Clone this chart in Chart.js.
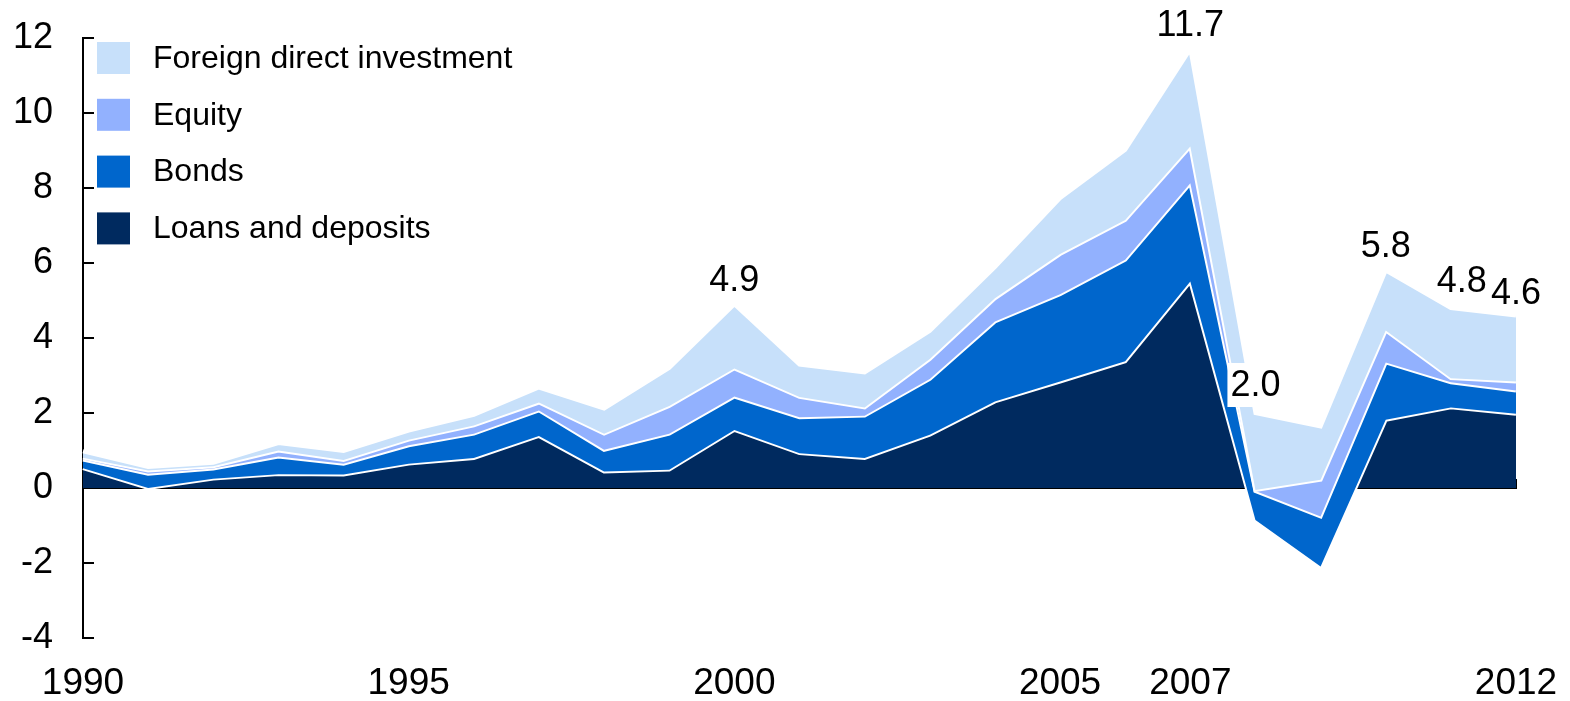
<!DOCTYPE html>
<html>
<head>
<meta charset="utf-8">
<title>Capital flows by type</title>
<script src="https://cdn.jsdelivr.net/npm/chart.js@4/dist/chart.umd.min.js"></script>
<style>
  html, body { margin: 0; padding: 0; background: #fff; }
  #wrap { position: relative; width: 1570px; height: 701px; }
</style>
</head>
<body>
<div id="wrap"><canvas id="flows"></canvas></div>
<script>
  const years = ["1990", "1991", "1992", "1993", "1994", "1995", "1996", "1997", "1998", "1999", "2000",
    "2001", "2002", "2003", "2004", "2005", "2006", "2007", "2008", "2009", "2010", "2011", "2012"];
  const shownYears = ["1990", "1995", "2000", "2005", "2007", "2012"];
  const labelYears = ["2000", "2007", "2008", "2010", "2011", "2012"];

  const loans = [0.53, 0.0, 0.25, 0.37, 0.36, 0.65, 0.80, 1.39, 0.44, 0.49, 1.55,
    0.93, 0.80, 1.42, 2.31, 2.84, 3.38, 5.51, -0.85, -2.09, 1.82, 2.15, 1.98];
  const bonds = [0.23, 0.38, 0.27, 0.47, 0.29, 0.49, 0.65, 0.68, 0.58, 0.96, 0.89,
    0.96, 1.13, 1.49, 2.13, 2.33, 2.71, 2.62, 0.77, 1.33, 1.53, 0.67, 0.62];
  const equity = [0.05, 0.09, 0.06, 0.16, 0.10, 0.15, 0.22, 0.21, 0.43, 0.74, 0.75,
    0.54, 0.22, 0.53, 0.62, 1.07, 1.06, 0.98, 0.03, 0.98, 0.85, 0.11, 0.24];
  const fdi = [0.17, 0.09, 0.09, 0.20, 0.24, 0.24, 0.28, 0.40, 0.67, 1.01, 1.71,
    0.86, 0.93, 0.75, 0.83, 1.49, 1.87, 2.59, 2.05, 1.42, 1.60, 1.87, 1.76];

  const yTicks = [-4, -2, 0, 2, 4, 6, 8, 10, 12];

  const FONT = '"Liberation Sans", Arial, Helvetica, sans-serif';

  // running sums, stacked in the order loans -> bonds -> equity -> FDI
  function addUp(a, b) { return a.map((v, i) => +(v + b[i]).toFixed(2)); }
  const loansTop = loans.slice();
  const bondsTop = addUp(loansTop, bonds);
  const equityTop = addUp(bondsTop, equity);
  const totals = addUp(equityTop, fdi);

  // listed top-down so Chart.js paints loans first and FDI last
  const series = [
    { label: "Foreign direct investment", data: totals, color: "#c7e0fa", fill: "+1" },
    { label: "Equity", data: equityTop, color: "#92b1fe", fill: "+1" },
    { label: "Bonds", data: bondsTop, color: "#0066cc", fill: "+1" },
    { label: "Loans and deposits", data: loansTop, color: "#002a5f", fill: "origin" },
  ];

  // label placement: [x shift, gap above the point, white box behind]
  const labelPlace = {
    "2000": [0, 24, false],
    "2007": [0, 24, false],
    "2008": [0, 28, true],
    "2010": [0, 24, false],
    "2011": [11, 27, false],
    "2012": [0, 22, false],
  };

  const overlay = {
    id: "overlay",
    afterDatasetsDraw(chart) {
      const { ctx } = chart;
      const x = chart.scales.x;
      const y = chart.scales.y;
      ctx.save();

      ctx.font = `36px ${FONT}`;
      ctx.textAlign = "center";
      ctx.textBaseline = "middle";
      labelYears.forEach((yr) => {
        const i = years.indexOf(yr);
        const [dx, gap, boxed] = labelPlace[yr];
        const text = totals[i].toFixed(1);
        const px = x.getPixelForValue(i) + dx;
        const py = y.getPixelForValue(totals[i]) - gap;
        if (boxed) {
          const w = ctx.measureText(text).width;
          ctx.fillStyle = "#fff";
          ctx.fillRect(px - w / 2 - 3, py - 22, w + 6, 44);
        }
        ctx.fillStyle = "#000";
        ctx.fillText(text, px, py + 1);
      });

      ctx.font = `32px ${FONT}`;
      ctx.textAlign = "left";
      series.forEach((s, i) => {
        const top = 42 + i * 56.8;
        ctx.fillStyle = s.color;
        ctx.fillRect(97, top, 33, 32);
        ctx.fillStyle = "#000";
        ctx.fillText(s.label, 153, top + 17);
      });
      ctx.restore();
    },
  };

  function noPad(s) {
    s.paddingTop = 0;
    s.paddingBottom = 0;
    s.paddingLeft = 0;
    s.paddingRight = 0;
  }

  new Chart(document.querySelector("#flows"), {
    type: "line",
    data: {
      labels: years,
      datasets: series.map((s) => ({
        label: s.label,
        data: s.data,
        backgroundColor: s.color,
        borderColor: "#fff",
        borderWidth: 4,
        fill: s.fill,
        pointRadius: 0,
        tension: 0,
      })),
    },
    options: {
      responsive: true,
      maintainAspectRatio: false,
      animation: false,
      events: [],
      layout: { padding: { top: 38, right: 54, bottom: 0, left: 0 } },
      plugins: { legend: { display: false }, tooltip: { enabled: false } },
      scales: {
        x: {
          type: "category",
          position: "bottom",
          offset: false,
          grid: { display: false },
          border: { display: false },
          ticks: {
            autoSkip: false,
            maxRotation: 0,
            padding: 16,
            color: "#000",
            font: { family: FONT, size: 37 },
            callback: (v, i) => (shownYears.includes(years[i]) ? years[i] : ""),
          },
          afterFit: (s) => { s.height = 63; noPad(s); },
        },
        x2: {
          type: "category",
          position: { y: 0 },
          offset: false,
          z: 1,
          grid: { drawOnChartArea: false, drawTicks: true, tickLength: -10, color: "#000", lineWidth: 2 },
          border: { display: true, color: "#000", width: 2 },
          ticks: { display: false },
          afterFit: (s) => { s.height = 0; noPad(s); },
        },
        y: {
          min: -4,
          max: 12,
          z: 1,
          afterBuildTicks: (s) => { s.ticks = yTicks.map((v) => ({ value: v })); },
          grid: { drawOnChartArea: false, drawTicks: true, tickLength: -11, color: "#000", lineWidth: 2 },
          border: { display: true, color: "#000", width: 2 },
          ticks: {
            padding: 41,
            color: "#000",
            font: { family: FONT, size: 36 },
          },
          afterFit: (s) => { s.width = 83; noPad(s); },
        },
      },
    },
    plugins: [overlay],
  });
</script>
</body>
</html>
